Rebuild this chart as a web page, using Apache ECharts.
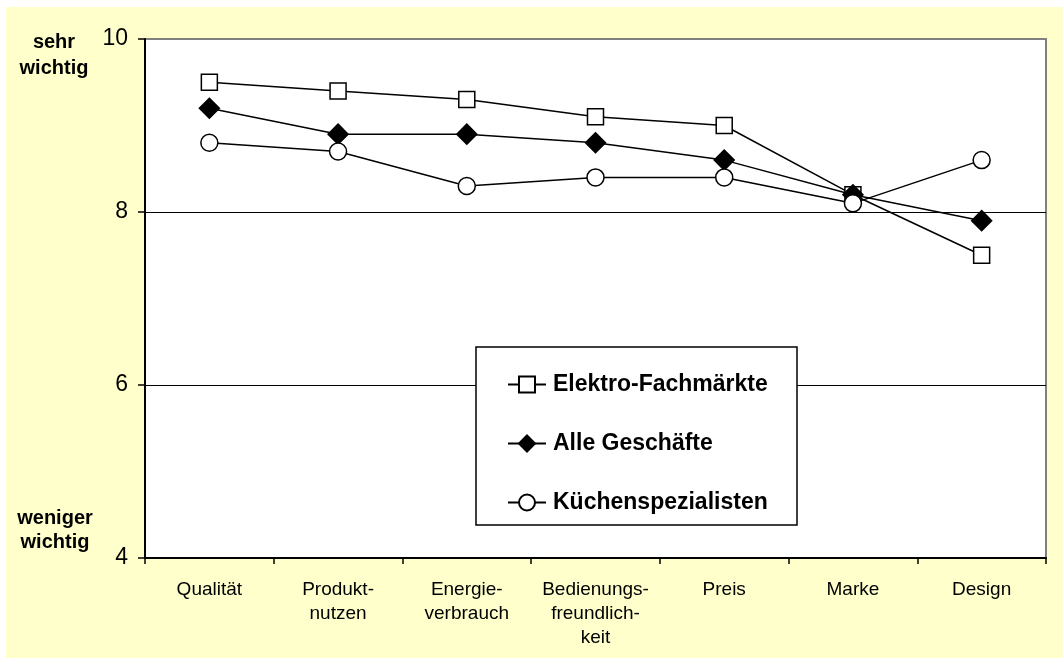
<!DOCTYPE html>
<html>
<head>
<meta charset="utf-8">
<script src="https://cdn.jsdelivr.net/npm/echarts@6/dist/echarts.min.js"></script>
<style>
html,body{margin:0;padding:0;background:#fff;}
#chart{position:absolute;left:6px;top:7px;width:1057px;height:651px;}
</style>
</head>
<body>
<div id="chart"></div>
<script>
const categories = ['Qualität', 'Produkt-\nnutzen', 'Energie-\nverbrauch', 'Bedienungs-\nfreundlich-\nkeit', 'Preis', 'Marke', 'Design'];
const seriesNames = ['Elektro-Fachmärkte', 'Alle Geschäfte', 'Küchenspezialisten'];
const elektro = [9.5, 9.4, 9.3, 9.1, 9.0, 8.2, 7.5];
const alle = [9.2, 8.9, 8.9, 8.8, 8.6, 8.2, 7.9];
const kuechen = [8.8, 8.7, 8.3, 8.4, 8.4, 8.1, 8.6];
const yTicks = [4, 6, 8, 10];
const topNote = 'sehr\nwichtig';
const bottomNote = 'weniger\nwichtig';

const FONT = '"Liberation Sans", Arial, sans-serif';
const chart = echarts.init(document.getElementById('chart'));

function lineSeries(name, data, symbol, size, fill) {
  return {
    name: name,
    type: 'line',
    data: data,
    symbol: symbol,
    symbolSize: size,
    showAllSymbol: true,
    lineStyle: { color: '#000', width: 1.5 },
    itemStyle: { color: fill, borderColor: '#000', borderWidth: 1.5 },
    emphasis: { disabled: true },
    animation: false
  };
}

chart.setOption({
  backgroundColor: '#FFFFCC',
  animation: false,
  textStyle: { fontFamily: FONT },
  grid: {
    left: 139, top: 32, right: 17, bottom: 100,
    show: true, backgroundColor: '#fff', borderColor: '#808080', borderWidth: 2,
    containLabel: false
  },
  xAxis: {
    type: 'category',
    data: categories,
    boundaryGap: true,
    axisLine: { lineStyle: { color: '#000', width: 2 } },
    axisTick: { show: true, length: 6, lineStyle: { color: '#000', width: 1.5 }, interval: 0 },
    axisLabel: { interval: 0, color: '#000', fontSize: 19, lineHeight: 24, margin: 20, fontFamily: FONT },
    splitLine: { show: false }
  },
  yAxis: {
    type: 'value',
    min: yTicks[0], max: yTicks[yTicks.length - 1], interval: 2,
    axisLine: { show: true, lineStyle: { color: '#000', width: 2 } },
    axisTick: { show: true, length: 7, lineStyle: { color: '#000', width: 1.5 } },
    axisLabel: { color: '#000', fontSize: 23, margin: 17, fontFamily: FONT },
    splitLine: { show: true, showMinLine: false, showMaxLine: false, lineStyle: { color: '#000', width: 1.2 } }
  },
  legend: {
    orient: 'vertical',
    left: 501, top: 366,
    padding: 0,
    itemWidth: 38, itemHeight: 20, itemGap: 36,
    data: seriesNames,
    selectedMode: false,
    textStyle: { color: '#000', fontWeight: 'bold', fontSize: 23, lineHeight: 22, fontFamily: FONT, padding: [0, 0, 0, 2] }
  },
  graphic: [
    {
      type: 'rect', z: 3,
      shape: { x: 470, y: 340, width: 321, height: 178 },
      style: { fill: '#fff', stroke: '#000', lineWidth: 1.5 }
    },
    {
      type: 'text', x: 48, y: 48, z: 3,
      style: { text: topNote, fill: '#000', font: 'bold 20px ' + FONT, textAlign: 'center', textVerticalAlign: 'middle', lineHeight: 26 }
    },
    {
      type: 'text', x: 49, y: 523, z: 3,
      style: { text: bottomNote, fill: '#000', font: 'bold 20px ' + FONT, textAlign: 'center', textVerticalAlign: 'middle', lineHeight: 24 }
    }
  ],
  series: [
    lineSeries(seriesNames[0], elektro, 'rect', 16, '#fff'),
    lineSeries(seriesNames[1], alle, 'diamond', 20, '#000'),
    lineSeries(seriesNames[2], kuechen, 'circle', 17, '#fff')
  ]
});
</script>
</body>
</html>
